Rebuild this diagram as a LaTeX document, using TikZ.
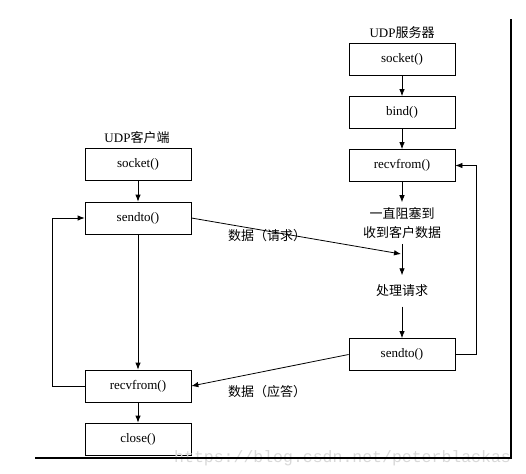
\documentclass[tikz,border=0pt]{standalone}
\usepackage{fontspec}
\setmainfont{Liberation Serif}
\newfontfamily\cjk{Noto Sans CJK SC}
\newfontfamily\wmfont{Liberation Mono}
\usetikzlibrary{arrows.meta}
\begin{document}
\begin{tikzpicture}[x=1pt,y=-1pt,
  fbox/.style={draw,line width=0.8pt,minimum width=106pt,minimum height=32pt,inner sep=0pt,font=\fontsize{13}{15}\selectfont},
  lbl/.style={font=\fontsize{13}{17}\selectfont\cjk,inner sep=0pt,align=center},
  arr/.style={-{Latex[length=7pt,width=5.5pt]},line width=0.8pt},
  ln/.style={line width=0.8pt}]
\useasboundingbox (0,0) rectangle (526,473);
% server
\node[lbl] (sT) at (402,33) {\rmfamily UDP\cjk 服务器};
\node[fbox] (s1) at (402,59) {socket()};
\node[fbox] (s2) at (402,112.5) {bind()};
\node[fbox] (s3) at (402,165.5) {recvfrom()};
\node[lbl,font=\fontsize{13}{19}\selectfont\cjk,inner ysep=5pt] (sw) at (402,223) {一直阻塞到\\收到客户数据};
\node[lbl,inner ysep=9.5pt] (sp) at (402,291) {处理请求};
\node[fbox] (s4) at (402,354.5) {sendto()};
% client
\node[lbl] (cT) at (137,138) {\rmfamily UDP\cjk 客户端};
\node[fbox] (c1) at (138,164.5) {socket()};
\node[fbox] (c2) at (138,218) {sendto()};
\node[fbox] (c3) at (138,386) {recvfrom()};
\node[fbox] (c4) at (138,439) {close()};
\coordinate (rq) at (401,254);
% server arrows
\draw[arr] (s1) -- (s2);
\draw[arr] (s2) -- (s3);
\draw[arr] (s3) -- (sw);
\draw[arr] (sw) -- (sp);
\draw[arr] (sp) -- (s4);
\draw[arr] (s4.east) -- (476,354.5) |- (s3.east);
% client arrows
\draw[arr] (c1) -- (c2);
\draw[arr] (c2.south) -- (c3.north);
\draw[arr] (c3) -- (c4);
\draw[arr] (c3.west) -- (52,386) |- (c2.west);
% data
\draw[arr] (c2.east) -- (rq);
\draw[arr] (s4.west) -- (c3.east);
\node[lbl] (lq) at (267,236) {数据（请求）};
\node[lbl] (la) at (267,392) {数据（应答）};
% watermark
\node[font=\fontsize{16.5}{18}\selectfont\wmfont,text=black!15,anchor=base west,inner sep=0pt] (wm) at (174,462) {https://blog.csdn.net/peterblackas};
% frame
\draw[line width=2.4pt] (35,458) -- (511,458) -- (511,19);
\end{tikzpicture}
\end{document}
